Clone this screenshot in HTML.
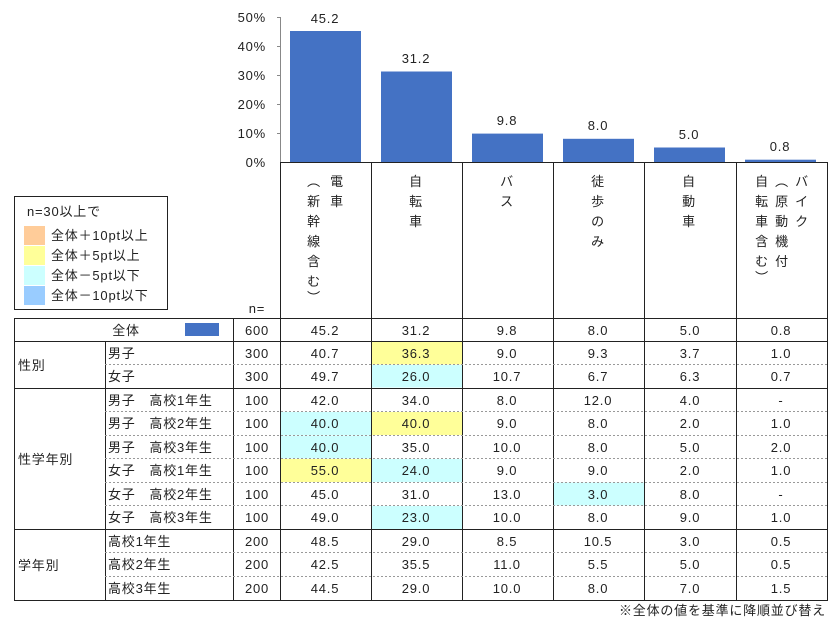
<!DOCTYPE html>
<html><head><meta charset="utf-8"><style>
html,body{margin:0;padding:0;background:#fff;}
svg{display:block;font-family:"Liberation Sans","Noto Sans CJK JP",sans-serif;}
text{font-size:13px;fill:#222;letter-spacing:0.8px;}
</style></head><body>
<svg width="839" height="627" viewBox="0 0 839 627" xmlns="http://www.w3.org/2000/svg">
<g font-size="13">
<text x="266" y="22" text-anchor="end">50%</text>
<text x="266" y="51" text-anchor="end">40%</text>
<text x="266" y="80" text-anchor="end">30%</text>
<text x="266" y="109" text-anchor="end">20%</text>
<text x="266" y="138" text-anchor="end">10%</text>
<text x="266" y="167" text-anchor="end">0%</text>
</g>
<line x1="280.5" y1="17" x2="280.5" y2="162" stroke="#888"/>
<g stroke="#888"><line x1="277" y1="17.5" x2="280" y2="17.5"/><line x1="277" y1="46.5" x2="280" y2="46.5"/><line x1="277" y1="75.5" x2="280" y2="75.5"/><line x1="277" y1="104.5" x2="280" y2="104.5"/><line x1="277" y1="133.5" x2="280" y2="133.5"/></g>
<g fill="#4472C4">
<rect x="290" y="31" width="71" height="131"/>
<rect x="381" y="71.5" width="71" height="90.5"/>
<rect x="472" y="133.6" width="71" height="28.4"/>
<rect x="563" y="138.8" width="71" height="23.2"/>
<rect x="654" y="147.5" width="71" height="14.5"/>
<rect x="745" y="159.7" width="71" height="2.3"/>
</g>
<g text-anchor="middle" font-size="13">
<text x="325" y="23">45.2</text><text x="416" y="63">31.2</text><text x="507" y="125">9.8</text><text x="598" y="130">8.0</text><text x="689" y="139">5.0</text><text x="780" y="151">0.8</text>
</g>
<g stroke="#222" stroke-width="1">
<line x1="280" y1="162.5" x2="827" y2="162.5"/>
<line x1="280.5" y1="162" x2="280.5" y2="600"/>
<line x1="371.5" y1="162" x2="371.5" y2="600"/>
<line x1="462.5" y1="162" x2="462.5" y2="600"/>
<line x1="553.5" y1="162" x2="553.5" y2="600"/>
<line x1="644.5" y1="162" x2="644.5" y2="600"/>
<line x1="736.5" y1="162" x2="736.5" y2="600"/>
<line x1="827.5" y1="162" x2="827.5" y2="600"/>
</g>
<g text-anchor="middle" font-size="13">
<text x="337" y="186">電</text><text x="337" y="206">車</text>
<text x="314" y="186">︵</text><text x="314" y="206">新</text><text x="314" y="226">幹</text><text x="314" y="246">線</text><text x="314" y="266">含</text><text x="314" y="286">む</text><text x="314" y="302">︶</text>
<text x="416" y="186">自</text><text x="416" y="206">転</text><text x="416" y="226">車</text>
<text x="507" y="186">バ</text><text x="507" y="206">ス</text>
<text x="598" y="186">徒</text><text x="598" y="206">歩</text><text x="598" y="226">の</text><text x="598" y="246">み</text>
<text x="689" y="186">自</text><text x="689" y="206">動</text><text x="689" y="226">車</text>
<text x="802" y="186">バ</text><text x="802" y="206">イ</text><text x="802" y="226">ク</text>
<text x="782" y="186">︵</text><text x="782" y="206">原</text><text x="782" y="226">動</text><text x="782" y="246">機</text><text x="782" y="266">付</text>
<text x="762" y="186">自</text><text x="762" y="206">転</text><text x="762" y="226">車</text><text x="762" y="246">含</text><text x="762" y="266">む</text><text x="762" y="282">︶</text>
</g>
<text x="257" y="313" text-anchor="middle">n=</text>
<rect x="14.5" y="196.5" width="153" height="113" fill="none" stroke="#222"/>
<text x="27" y="216" font-size="12">n=30以上で</text>
<rect x="24" y="226" width="21" height="19" fill="#FFCC99"/>
<rect x="24" y="246" width="21" height="19" fill="#FFFF99"/>
<rect x="24" y="266" width="21" height="19" fill="#CCFFFF"/>
<rect x="24" y="286" width="21" height="19" fill="#99CCFF"/>
<g font-size="12"><text x="51" y="240">全体＋10pt以上</text><text x="51" y="260">全体＋5pt以上</text><text x="51" y="280">全体－5pt以下</text><text x="51" y="300">全体－10pt以下</text></g>
<g>
<rect x="372" y="341.5" width="90" height="23" fill="#FFFF99"/>
<rect x="372" y="365" width="90" height="22.5" fill="#CCFFFF"/>
<rect x="281" y="412" width="90" height="23" fill="#CCFFFF"/>
<rect x="372" y="412" width="90" height="23" fill="#FFFF99"/>
<rect x="281" y="435.5" width="90" height="23" fill="#CCFFFF"/>
<rect x="281" y="459" width="90" height="23" fill="#FFFF99"/>
<rect x="372" y="459" width="90" height="23" fill="#CCFFFF"/>
<rect x="554" y="482.5" width="90" height="23" fill="#CCFFFF"/>
<rect x="372" y="506" width="90" height="23" fill="#CCFFFF"/>
</g>
<g stroke="#222" fill="none">
<rect x="14.5" y="318.5" width="813" height="282"/>
<line x1="14" y1="341.5" x2="828" y2="341.5"/>
<line x1="14" y1="388.5" x2="828" y2="388.5"/>
<line x1="14" y1="529.5" x2="828" y2="529.5"/>
<line x1="105.5" y1="341" x2="105.5" y2="600"/>
<line x1="233.5" y1="318" x2="233.5" y2="600"/>
</g>
<g stroke="#999" stroke-dasharray="2,2">
<line x1="105" y1="364.5" x2="828" y2="364.5"/>
<line x1="105" y1="411.5" x2="828" y2="411.5"/>
<line x1="105" y1="435.5" x2="828" y2="435.5"/>
<line x1="105" y1="458.5" x2="828" y2="458.5"/>
<line x1="105" y1="482.5" x2="828" y2="482.5"/>
<line x1="105" y1="505.5" x2="828" y2="505.5"/>
<line x1="105" y1="552.5" x2="828" y2="552.5"/>
<line x1="105" y1="576.5" x2="828" y2="576.5"/>
</g>
<text x="126" y="335" text-anchor="middle">全体</text>
<rect x="185" y="323" width="34" height="13" fill="#4472C4"/>
<text x="18" y="370">性別</text>
<text x="18" y="464">性学年別</text>
<text x="18" y="570">学年別</text>
<g font-size="13">
<text x="108" y="358">男子</text><text x="108" y="381">女子</text>
<text x="108" y="405">男子　高校1年生</text><text x="108" y="428">男子　高校2年生</text><text x="108" y="452">男子　高校3年生</text>
<text x="108" y="475">女子　高校1年生</text><text x="108" y="499">女子　高校2年生</text><text x="108" y="522">女子　高校3年生</text>
<text x="108" y="546">高校1年生</text><text x="108" y="569">高校2年生</text><text x="108" y="593">高校3年生</text>
</g>
<g text-anchor="middle" font-size="13">
<g transform="translate(0,335)"><text x="257">600</text><text x="325">45.2</text><text x="416">31.2</text><text x="507">9.8</text><text x="598">8.0</text><text x="690">5.0</text><text x="781">0.8</text></g>
<g transform="translate(0,358)"><text x="257">300</text><text x="325">40.7</text><text x="416">36.3</text><text x="507">9.0</text><text x="598">9.3</text><text x="690">3.7</text><text x="781">1.0</text></g>
<g transform="translate(0,381)"><text x="257">300</text><text x="325">49.7</text><text x="416">26.0</text><text x="507">10.7</text><text x="598">6.7</text><text x="690">6.3</text><text x="781">0.7</text></g>
<g transform="translate(0,405)"><text x="257">100</text><text x="325">42.0</text><text x="416">34.0</text><text x="507">8.0</text><text x="598">12.0</text><text x="690">4.0</text><text x="781">-</text></g>
<g transform="translate(0,428)"><text x="257">100</text><text x="325">40.0</text><text x="416">40.0</text><text x="507">9.0</text><text x="598">8.0</text><text x="690">2.0</text><text x="781">1.0</text></g>
<g transform="translate(0,452)"><text x="257">100</text><text x="325">40.0</text><text x="416">35.0</text><text x="507">10.0</text><text x="598">8.0</text><text x="690">5.0</text><text x="781">2.0</text></g>
<g transform="translate(0,475)"><text x="257">100</text><text x="325">55.0</text><text x="416">24.0</text><text x="507">9.0</text><text x="598">9.0</text><text x="690">2.0</text><text x="781">1.0</text></g>
<g transform="translate(0,499)"><text x="257">100</text><text x="325">45.0</text><text x="416">31.0</text><text x="507">13.0</text><text x="598">3.0</text><text x="690">8.0</text><text x="781">-</text></g>
<g transform="translate(0,522)"><text x="257">100</text><text x="325">49.0</text><text x="416">23.0</text><text x="507">10.0</text><text x="598">8.0</text><text x="690">9.0</text><text x="781">1.0</text></g>
<g transform="translate(0,546)"><text x="257">200</text><text x="325">48.5</text><text x="416">29.0</text><text x="507">8.5</text><text x="598">10.5</text><text x="690">3.0</text><text x="781">0.5</text></g>
<g transform="translate(0,569)"><text x="257">200</text><text x="325">42.5</text><text x="416">35.5</text><text x="507">11.0</text><text x="598">5.5</text><text x="690">5.0</text><text x="781">0.5</text></g>
<g transform="translate(0,593)"><text x="257">200</text><text x="325">44.5</text><text x="416">29.0</text><text x="507">10.0</text><text x="598">8.0</text><text x="690">7.0</text><text x="781">1.5</text></g>
</g>
<text x="826" y="615" text-anchor="end" font-size="12">※全体の値を基準に降順並び替え</text>
</svg>
</body></html>
